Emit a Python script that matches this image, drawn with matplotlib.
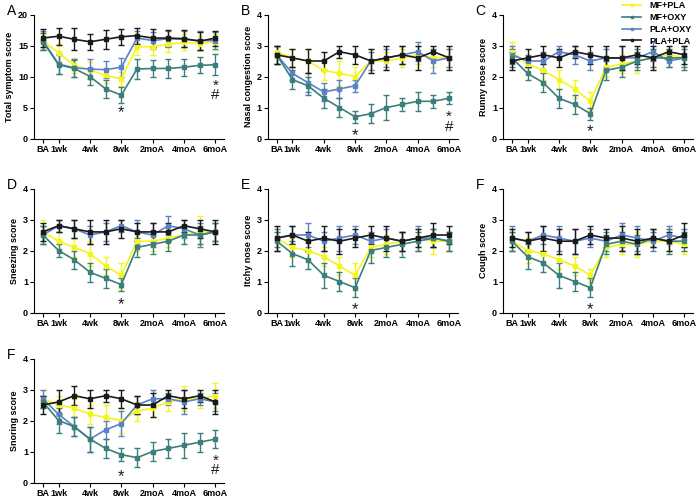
import numpy as np
import matplotlib
matplotlib.use('Agg')
import matplotlib.pyplot as plt
from matplotlib.lines import Line2D

plt.rcParams['font.family'] = ['Liberation Sans', 'DejaVu Sans']
plt.rcParams['font.weight'] = 'bold'

# --- Data ---
timepoints = ['BA', '1wk', '2wk', '4wk', '6wk', '8wk', '1moA', '2moA', '3moA', '4moA', '5moA', '6moA']
tick_labels = ['BA', '1wk', '4wk', '8wk', '2moA', '4moA', '6moA']
tick_idx = [0, 1, 3, 5, 7, 9, 11]

groups = ['MF+PLA', 'MF+OXY', 'PLA+OXY', 'PLA+PLA']
colors = ['#f5f51c', '#3b7f7c', '#5b82c8', '#1a1a1a']

# order of rows: MF+PLA, MF+OXY, PLA+OXY, PLA+PLA
total_mean = [[15.8, 13.8, 11.8, 11.0, 10.2, 9.6, 14.8, 14.8, 15.2, 15.5, 15.3, 15.6],
              [15.6, 11.9, 11.3, 10.0, 8.0, 7.0, 11.2, 11.3, 11.3, 11.5, 11.8, 11.9],
              [15.8, 12.0, 11.4, 11.2, 11.1, 11.5, 16.2, 15.8, 16.1, 16.0, 15.8, 15.8],
              [16.2, 16.5, 16.0, 15.6, 16.0, 16.4, 16.6, 16.2, 16.2, 16.1, 15.7, 16.2]]
total_sem = [[1.4, 1.4, 1.2, 1.3, 1.2, 1.2, 1.3, 1.4, 1.3, 1.3, 1.2, 1.3],
             [1.4, 1.5, 1.4, 1.4, 1.4, 1.3, 1.6, 1.4, 1.5, 1.4, 1.3, 1.7],
             [1.6, 1.6, 1.4, 1.6, 1.4, 1.5, 1.2, 1.4, 1.3, 1.3, 1.5, 1.4],
             [1.5, 1.4, 1.8, 1.3, 1.5, 1.3, 1.3, 1.5, 1.3, 1.4, 1.5, 1.2]]

nasal_mean = [[2.8, 2.6, 2.5, 2.2, 2.1, 2.0, 2.5, 2.5, 2.6, 2.7, 2.6, 2.6],
              [2.7, 1.9, 1.7, 1.3, 1.0, 0.7, 0.8, 1.0, 1.1, 1.2, 1.2, 1.3],
              [2.7, 2.1, 1.8, 1.5, 1.6, 1.7, 2.5, 2.6, 2.7, 2.8, 2.5, 2.6],
              [2.7, 2.6, 2.5, 2.5, 2.8, 2.7, 2.5, 2.6, 2.7, 2.6, 2.8, 2.6]]
nasal_sem = [[0.2, 0.3, 0.4, 0.3, 0.4, 0.3, 0.4, 0.3, 0.3, 0.3, 0.3, 0.3],
             [0.3, 0.3, 0.3, 0.3, 0.3, 0.2, 0.3, 0.4, 0.2, 0.3, 0.2, 0.2],
             [0.3, 0.2, 0.3, 0.3, 0.3, 0.2, 0.3, 0.3, 0.3, 0.3, 0.4, 0.3],
             [0.3, 0.3, 0.4, 0.3, 0.2, 0.3, 0.4, 0.4, 0.3, 0.4, 0.2, 0.4]]

runny_mean = [[2.8, 2.4, 2.2, 1.9, 1.6, 1.2, 2.3, 2.4, 2.5, 2.6, 2.7, 2.6],
              [2.6, 2.1, 1.8, 1.3, 1.1, 0.8, 2.2, 2.3, 2.5, 2.6, 2.6, 2.6],
              [2.7, 2.5, 2.5, 2.8, 2.7, 2.5, 2.6, 2.6, 2.6, 2.8, 2.5, 2.6],
              [2.5, 2.6, 2.7, 2.6, 2.8, 2.7, 2.6, 2.6, 2.7, 2.6, 2.8, 2.7]]
runny_sem = [[0.3, 0.3, 0.3, 0.3, 0.3, 0.3, 0.3, 0.3, 0.4, 0.3, 0.2, 0.3],
             [0.3, 0.2, 0.3, 0.3, 0.3, 0.2, 0.3, 0.3, 0.3, 0.3, 0.3, 0.4],
             [0.3, 0.2, 0.3, 0.2, 0.3, 0.3, 0.3, 0.4, 0.3, 0.3, 0.2, 0.3],
             [0.3, 0.3, 0.3, 0.3, 0.2, 0.3, 0.4, 0.4, 0.3, 0.4, 0.2, 0.3]]

sneeze_mean = [[2.6, 2.3, 2.1, 1.9, 1.5, 1.2, 2.3, 2.3, 2.4, 2.5, 2.6, 2.6],
               [2.5, 2.0, 1.7, 1.3, 1.1, 0.9, 2.1, 2.2, 2.3, 2.5, 2.5, 2.6],
               [2.5, 2.8, 2.7, 2.5, 2.6, 2.8, 2.6, 2.5, 2.8, 2.7, 2.5, 2.6],
               [2.6, 2.8, 2.7, 2.6, 2.6, 2.7, 2.6, 2.6, 2.6, 2.8, 2.7, 2.6]]
sneeze_sem = [[0.4, 0.3, 0.3, 0.4, 0.3, 0.4, 0.3, 0.3, 0.3, 0.3, 0.5, 0.3],
              [0.3, 0.2, 0.3, 0.3, 0.3, 0.2, 0.3, 0.3, 0.3, 0.3, 0.3, 0.3],
              [0.3, 0.2, 0.3, 0.3, 0.3, 0.2, 0.4, 0.4, 0.3, 0.3, 0.4, 0.3],
              [0.3, 0.2, 0.3, 0.4, 0.4, 0.3, 0.3, 0.3, 0.3, 0.2, 0.3, 0.4]]

itchy_mean = [[2.4, 2.1, 2.0, 1.8, 1.5, 1.2, 2.1, 2.2, 2.3, 2.4, 2.3, 2.3],
              [2.3, 1.9, 1.7, 1.2, 1.0, 0.8, 2.0, 2.1, 2.2, 2.3, 2.4, 2.3],
              [2.4, 2.5, 2.5, 2.3, 2.4, 2.5, 2.3, 2.4, 2.3, 2.4, 2.4, 2.3],
              [2.4, 2.5, 2.3, 2.4, 2.3, 2.4, 2.5, 2.4, 2.3, 2.4, 2.5, 2.5]]
itchy_sem = [[0.3, 0.3, 0.3, 0.3, 0.3, 0.4, 0.3, 0.3, 0.3, 0.3, 0.4, 0.3],
             [0.3, 0.4, 0.3, 0.4, 0.3, 0.3, 0.4, 0.3, 0.4, 0.3, 0.3, 0.3],
             [0.3, 0.3, 0.4, 0.3, 0.4, 0.3, 0.3, 0.3, 0.3, 0.4, 0.3, 0.3],
             [0.4, 0.3, 0.3, 0.4, 0.4, 0.3, 0.3, 0.4, 0.3, 0.3, 0.4, 0.3]]

cough_mean = [[2.3, 2.0, 1.9, 1.7, 1.5, 1.2, 2.1, 2.2, 2.2, 2.3, 2.3, 2.2],
              [2.3, 1.8, 1.6, 1.2, 1.0, 0.8, 2.2, 2.3, 2.2, 2.4, 2.3, 2.3],
              [2.4, 2.3, 2.5, 2.4, 2.3, 2.4, 2.3, 2.5, 2.4, 2.3, 2.5, 2.4],
              [2.4, 2.3, 2.4, 2.3, 2.3, 2.5, 2.4, 2.4, 2.3, 2.4, 2.3, 2.5]]
cough_sem = [[0.3, 0.4, 0.3, 0.3, 0.3, 0.2, 0.3, 0.3, 0.4, 0.3, 0.3, 0.3],
             [0.3, 0.4, 0.3, 0.4, 0.3, 0.3, 0.3, 0.3, 0.3, 0.3, 0.4, 0.3],
             [0.4, 0.3, 0.3, 0.4, 0.4, 0.3, 0.3, 0.4, 0.4, 0.3, 0.3, 0.3],
             [0.3, 0.3, 0.4, 0.4, 0.4, 0.3, 0.3, 0.4, 0.4, 0.3, 0.3, 0.4]]

snore_mean = [[2.7, 2.5, 2.4, 2.2, 2.1, 2.0, 2.3, 2.4, 2.6, 2.7, 2.7, 2.8],
              [2.6, 2.0, 1.8, 1.4, 1.1, 0.9, 0.8, 1.0, 1.1, 1.2, 1.3, 1.4],
              [2.7, 2.2, 1.8, 1.4, 1.7, 1.9, 2.5, 2.7, 2.7, 2.6, 2.7, 2.6],
              [2.5, 2.6, 2.8, 2.7, 2.8, 2.7, 2.5, 2.5, 2.8, 2.7, 2.8, 2.6]]
snore_sem = [[0.3, 0.3, 0.3, 0.3, 0.4, 0.4, 0.3, 0.3, 0.3, 0.4, 0.3, 0.4],
             [0.2, 0.4, 0.3, 0.4, 0.3, 0.2, 0.3, 0.3, 0.3, 0.4, 0.3, 0.3],
             [0.3, 0.3, 0.3, 0.4, 0.3, 0.4, 0.3, 0.3, 0.2, 0.4, 0.2, 0.3],
             [0.3, 0.4, 0.3, 0.3, 0.2, 0.3, 0.3, 0.4, 0.2, 0.3, 0.2, 0.4]]

# significance marks: (x index, y, text)
total_marks = [(5, 4.9, '*'), (11, 5.9, '*\n#')]
nasal_marks = [(5, 0.27, '*'), (11, 0.16, '*\n#')]
runny_marks = [(5, 0.38, '*')]
sneeze_marks = [(5, 0.40, '*')]
itchy_marks = [(5, 0.24, '*')]
cough_marks = [(5, 0.24, '*')]
snore_marks = [(5, 0.34, '*'), (11, 0.18, '*\n#')]

panels = [
    ('A', 'Total symptom score', total_mean, total_sem, 20, [0, 5, 10, 15, 20], total_marks),
    ('B', 'Nasal congestion score', nasal_mean, nasal_sem, 4, [0, 1, 2, 3, 4], nasal_marks),
    ('C', 'Runny nose score', runny_mean, runny_sem, 4, [0, 1, 2, 3, 4], runny_marks),
    ('D', 'Sneezing score', sneeze_mean, sneeze_sem, 4, [0, 1, 2, 3, 4], sneeze_marks),
    ('E', 'Itchy nose score', itchy_mean, itchy_sem, 4, [0, 1, 2, 3, 4], itchy_marks),
    ('F', 'Cough score', cough_mean, cough_sem, 4, [0, 1, 2, 3, 4], cough_marks),
    ('F', 'Snoring score', snore_mean, snore_sem, 4, [0, 1, 2, 3, 4], snore_marks),
]

fig = plt.figure(figsize=(7, 5), dpi=100)

lefts = [0.049, 0.383, 0.719]
bottoms = [0.723, 0.375, 0.035]
w, h = 0.271, 0.248

x = np.arange(len(timepoints))
draw_order = [0, 2, 1, 3]

for i, (letter, ylab, means, sems, ymax, yticks, marks) in enumerate(panels):
    ax = fig.add_axes([lefts[i % 3], bottoms[i // 3], w, h])
    for g in draw_order:
        ax.errorbar(x, means[g], yerr=sems[g], color=colors[g], lw=1.2,
                    elinewidth=1.0, capsize=2.5, capthick=1.0,
                    marker='s', markersize=2.5)
    ax.set_xlim(-0.55, 11.55)
    ax.set_ylim(0, ymax)
    ax.set_yticks(yticks)
    ax.set_xticks(tick_idx)
    ax.set_xticklabels(tick_labels)
    ax.spines['top'].set_visible(False)
    ax.spines['right'].set_visible(False)
    ax.tick_params(labelsize=6.5, length=3, width=0.8, pad=1.5)
    ax.set_ylabel(ylab, fontsize=6.5, fontweight='bold', labelpad=3)
    for xi, yv, s in marks:
        if '\n' in s:
            ax.text(xi, yv, s, ha='center', va='bottom', fontsize=11,
                    fontweight='normal', linespacing=0.6, color='#1a1a1a')
        else:
            ax.annotate(s, (xi, yv), xytext=(0, -3.6), textcoords='offset points',
                        ha='center', va='center', fontsize=12,
                        fontweight='normal', color='#1a1a1a')
    ax.text(-0.12, 1.03, letter, transform=ax.transAxes, fontsize=10,
            fontweight='normal', ha='center', va='center')

handles = [Line2D([], [], color=c, lw=1.2, marker='s', markersize=2) for c in colors]
fig.legend(handles, groups, loc='upper left', bbox_to_anchor=(0.888, 0.997),
           frameon=False, fontsize=6.5, handlelength=2.2, handletextpad=0.9,
           labelspacing=0.3, borderpad=0.0, borderaxespad=0.0)

fig.savefig('out.png', dpi=100)
